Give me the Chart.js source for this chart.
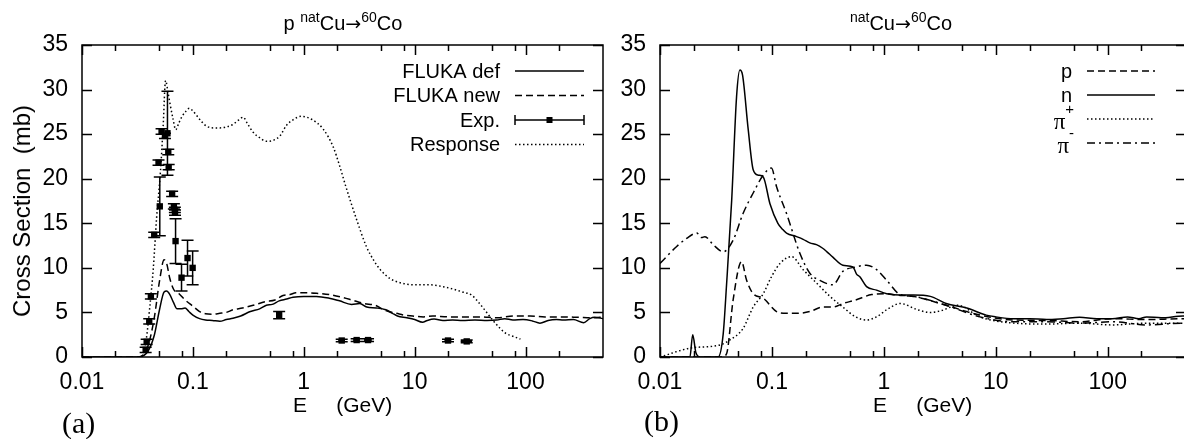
<!DOCTYPE html>
<html>
<head>
<meta charset="utf-8">
<script src="https://cdn.jsdelivr.net/npm/chart.js@4.4.1/dist/chart.umd.min.js"></script>
<style>
body { margin: 0; width: 1184px; height: 439px; overflow: hidden; background: #fff; position: relative; font-family: "Liberation Sans", Arial, sans-serif; }
canvas { position: absolute; top: 0; }
#left { left: 0; }
#right { left: 590px; }
.t { position: absolute; white-space: pre; color: #000; line-height: 20px; }
.t .s { font-size: 14px; position: relative; top: -8px; }
.t .ar { font-family: "DejaVu Sans", sans-serif; font-size: 19px; }
.serif { font-family: "Liberation Serif", "Times New Roman", serif; }
</style>
</head>
<body>
<canvas id="left" width="610" height="439"></canvas>
<canvas id="right" width="600" height="439"></canvas>

<div class="t" style="left:0;width:686px;text-align:center;top:13px;font-size:20px">p <span class="s">nat</span>Cu<span class="ar">→</span><span class="s">60</span>Co</div>
<div class="t" style="left:800px;width:202px;text-align:center;top:13px;font-size:20px"><span class="s">nat</span>Cu<span class="ar">→</span><span class="s">60</span>Co</div>
<div class="t" style="left:22px;top:211px;font-size:24px;transform:translate(-50%,-50%) rotate(-90deg)">Cross Section  (mb)</div>
<div class="t" style="left:293px;top:395px;font-size:21px">E     (GeV)</div>
<div class="t" style="left:873px;top:395px;font-size:21px">E     (GeV)</div>
<div class="t serif" style="left:62px;top:413px;font-size:30px">(a)</div>
<div class="t serif" style="left:644px;top:411px;font-size:30px">(b)</div>

<script>
// axis ticks
const xTickValues = [0.01, 0.1, 1, 10, 100];
const xTickLabels = ['0.01', '0.1', '1', '10', '100'];
const xMinorTicks = [0.02, 0.05, 0.08, 0.2, 0.5, 0.8, 2, 5, 8, 20, 50, 80, 200];
const yTickValues = [0, 5, 10, 15, 20, 25, 30, 35];

// (a) p natCu -> 60Co
const defE = [0.01, 0.03, 0.035, 0.04, 0.045, 0.05, 0.055, 0.058, 0.062, 0.067, 0.072, 0.078, 0.085, 0.092, 0.1, 0.115, 0.13, 0.15, 0.175, 0.2, 0.23, 0.27, 0.33, 0.4, 0.46, 0.52, 0.6, 0.7, 0.8, 1.0, 1.3, 1.7, 2.1, 2.7, 3.2, 3.7, 4.5, 5.5, 6.3, 7, 8.5, 10, 11.8, 13, 15, 18, 22, 27, 35, 45, 55, 65, 77, 95, 115, 135, 160, 190, 220, 270, 335, 380, 420, 500];
const defS = [0, 0, 0.1, 0.8, 2.5, 5.3, 7.3, 7.4, 7.0, 6.1, 5.4, 5.4, 5.5, 5.1, 4.7, 4.3, 4.15, 4.1, 4.0, 4.2, 4.35, 4.6, 5.1, 5.4, 5.8, 5.9, 6.3, 6.5, 6.7, 6.8, 6.8, 6.6, 6.3, 5.9, 6.0, 5.6, 5.5, 5.3, 4.9, 4.6, 4.4, 4.2, 3.9, 4.1, 4.25, 4.1, 4.15, 4.1, 4.15, 4.1, 4.15, 4.3, 4.15, 4.2, 4.05, 3.8, 4.1, 4.2, 4.15, 4.2, 3.85, 4.3, 4.45, 4.3];

const newE = [0.01, 0.032, 0.036, 0.04, 0.045, 0.05, 0.055, 0.058, 0.062, 0.067, 0.075, 0.085, 0.1, 0.115, 0.13, 0.15, 0.175, 0.2, 0.23, 0.28, 0.35, 0.45, 0.55, 0.65, 0.75, 0.85, 1.0, 1.3, 1.7, 2.2, 2.7, 3.5, 4.4, 5.5, 6.9, 8, 9.6, 12, 14.6, 20, 27, 40, 55, 80, 110, 150, 220, 300, 410, 500];
const newS = [0, 0, 0.3, 1.5, 4.5, 8.5, 10.9, 10.5, 8.8, 7.6, 7.1, 6.4, 5.7, 5.1, 4.85, 4.8, 4.9, 5.0, 5.3, 5.5, 5.8, 6.2, 6.4, 6.9, 7.0, 7.2, 7.2, 7.15, 7.0, 6.7, 6.4, 6.0, 5.8, 5.2, 4.9, 4.7, 4.6, 4.5, 4.6, 4.5, 4.5, 4.5, 4.4, 4.6, 4.6, 4.5, 4.5, 4.45, 4.4, 4.5];

const respE = [0.035, 0.0357, 0.038, 0.0408, 0.044, 0.047, 0.051, 0.054, 0.0567, 0.06, 0.062, 0.066, 0.07, 0.075, 0.08, 0.087, 0.093, 0.1, 0.108, 0.12, 0.1325, 0.155, 0.175, 0.2, 0.23, 0.26, 0.284, 0.31, 0.35, 0.4, 0.46, 0.53, 0.61, 0.7, 0.8, 0.95, 1.2, 1.49, 1.84, 2.1, 2.4, 3.0, 3.67, 4.3, 4.9, 6.0, 6.9, 8.2, 9.6, 13.6, 19.4, 27, 33, 38.5, 44, 50.5, 58, 66.5, 78, 90];
const respS = [0, 0.4, 2.0, 5.5, 10, 15.5, 20.8, 26, 31, 29.5, 28.5, 26.8, 25.5, 26.3, 27.0, 27.6, 27.9, 27.6, 27.1, 26.4, 25.9, 25.7, 25.7, 25.8, 26.1, 26.6, 26.9, 26.2, 25.2, 24.6, 24.2, 24.3, 24.8, 26.0, 26.6, 27.0, 26.6, 25.6, 23.6, 21.5, 19.1, 15.4, 12.4, 10.8, 9.8, 8.8, 8.45, 8.2, 8.1, 8.1, 7.8, 7.3, 6.9, 6.0, 5.1, 4.15, 3.3, 2.65, 2.3, 2.0];

const expE = [0.0375, 0.0383, 0.0404, 0.0418, 0.0448, 0.049, 0.0503, 0.0522, 0.056, 0.059, 0.06, 0.0605, 0.065, 0.0674, 0.0688, 0.069, 0.0698, 0.079, 0.0895, 0.0995, 0.6, 2.2, 3.0, 3.8, 20, 29.5];
const expS = [0.8, 1.7, 4.0, 6.8, 13.7, 21.8, 16.9, 25.3, 24.8, 25.1, 23.0, 21.3, 18.3, 16.9, 16.5, 16.2, 13.0, 8.9, 11.1, 10.0, 4.7, 1.85, 1.9, 1.9, 1.85, 1.75];
const expDS = [0.3, 0.3, 0.3, 0.3, 0.3, 0.3, 3.3, 0.3, 0.3, 4.7, 0.3, 0.3, 0.3, 0.3, 0.3, 0.3, 2.5, 1.5, 2.0, 1.9, 0.4, 0.15, 0.15, 0.15, 0.15, 0.15];
const expDE = [0.001, 0.001, 0.001, 0.001, 0.0015, 0.0015, 0.0, 0.0015, 0.0015, 0.0, 0.0015, 0.0015, 0.0015, 0.0015, 0.0015, 0.0015, 0.0, 0.0, 0.0, 0.0, 0.0, 0.15, 0.2, 0.3, 1.4, 3.5];

// (b) natCu -> 60Co by projectile
const pE = [0.01, 0.036, 0.0394, 0.045, 0.0535, 0.0594, 0.068, 0.0836, 0.11, 0.135, 0.166, 0.218, 0.284, 0.35, 0.43, 0.56, 0.78, 1.06, 1.31, 1.83, 3.6, 7.2, 14.4, 28.4, 56, 110, 222, 470, 500];
const pS = [0, 0, 0.4, 6.4, 10.7, 8.6, 7.1, 6.6, 5.1, 4.9, 4.9, 5.1, 5.6, 5.6, 6.0, 6.4, 7.0, 7.1, 6.95, 6.8, 5.8, 4.7, 4.15, 4.1, 3.95, 4.3, 4.2, 4.3, 4.3];

const nE = [0.01, 0.0185, 0.0196, 0.0209, 0.0228, 0.033, 0.0367, 0.0394, 0.0437, 0.0483, 0.0517, 0.0547, 0.0614, 0.068, 0.0755, 0.0836, 0.096, 0.113, 0.125, 0.135, 0.166, 0.19, 0.218, 0.25, 0.284, 0.31, 0.35, 0.43, 0.53, 0.57, 0.61, 0.7, 0.86, 1.06, 1.4, 1.83, 2.6, 3.6, 5.5, 8.2, 10, 14.4, 20, 28.4, 40, 56, 80, 110, 150, 190, 222, 300, 470, 500];
const nS = [0, 0, 2.5, 0.5, 0, 0, 2.6, 8.3, 17.6, 29.2, 32.2, 31.6, 25.5, 21.0, 20.4, 20.2, 17.2, 15.0, 14.3, 13.9, 13.5, 13.2, 12.8, 12.6, 12.2, 11.8, 11.2, 10.3, 10.1, 9.3, 9.0, 7.9, 7.5, 7.1, 6.95, 6.95, 6.8, 6.0, 5.5, 4.7, 4.5, 4.3, 4.3, 4.2, 4.3, 4.45, 4.3, 4.3, 4.5, 4.3, 4.5, 4.4, 4.6, 4.6];

const pipE = [0.01, 0.0187, 0.0344, 0.042, 0.0552, 0.068, 0.0836, 0.099, 0.118, 0.15, 0.19, 0.25, 0.33, 0.43, 0.56, 0.7, 0.86, 1.06, 1.4, 2.0, 2.6, 3.25, 4.6, 7.2, 14.4, 28.4, 56, 110, 222, 470, 500];
const pipS = [0, 1.0, 1.35, 1.9, 3.2, 5.6, 7.1, 9.0, 10.5, 11.25, 9.8, 8.3, 6.8, 5.6, 4.5, 4.15, 4.5, 5.3, 6.0, 5.3, 5.0, 5.2, 5.8, 4.5, 3.8, 3.7, 3.8, 3.6, 3.8, 3.8, 3.8];

const pimE = [0.01, 0.0141, 0.0173, 0.0213, 0.0235, 0.0252, 0.0299, 0.0367, 0.045, 0.0552, 0.068, 0.0836, 0.099, 0.11, 0.135, 0.178, 0.218, 0.268, 0.35, 0.43, 0.56, 0.7, 0.86, 1.06, 1.4, 1.83, 3.6, 7.2, 14.4, 28.4, 56, 110, 222, 470, 500];
const pimS = [10.5, 12.4, 13.3, 13.9, 13.4, 13.5, 12.6, 11.8, 13.1, 16.1, 18.4, 20.4, 21.2, 19.1, 16.1, 11.6, 9.4, 8.6, 8.1, 9.6, 10.1, 10.3, 9.8, 8.6, 7.0, 6.8, 5.8, 4.5, 3.95, 3.95, 3.8, 3.95, 3.6, 3.8, 3.8];

const FONT = '"Liberation Sans", Arial, sans-serif';
Chart.defaults.font.family = FONT;
Chart.defaults.color = '#000';

function pts(xs, ys) {
  return xs.map((x, i) => ({ x: x, y: ys[i] }));
}

function curve(label, xs, ys, dash) {
  return {
    label: label,
    data: pts(xs, ys),
    borderColor: '#000',
    borderWidth: 1.5,
    borderDash: dash,
    pointRadius: 0,
    fill: false,
    cubicInterpolationMode: 'monotone'
  };
}

// frame with inward ticks on all four sides
const frameTicks = {
  id: 'frameTicks',
  afterDatasetsDraw(chart) {
    const { ctx, chartArea: a, scales } = chart;
    const x = scales.x, y = scales.y;
    ctx.save();
    ctx.strokeStyle = '#000';
    ctx.lineWidth = 1.5;
    ctx.setLineDash([]);
    ctx.strokeRect(a.left, a.top, a.right - a.left, a.bottom - a.top);
    ctx.beginPath();
    const xt = (v, len) => {
      const px = Math.round(x.getPixelForValue(v)) + 0.5;
      ctx.moveTo(px, a.bottom); ctx.lineTo(px, a.bottom - len);
      ctx.moveTo(px, a.top); ctx.lineTo(px, a.top + len);
    };
    xTickValues.forEach(v => xt(v, 10));
    xMinorTicks.forEach(v => xt(v, 6));
    yTickValues.forEach(v => {
      const py = Math.round(y.getPixelForValue(v)) + 0.5;
      ctx.moveTo(a.left, py); ctx.lineTo(a.left + 10, py);
      ctx.moveTo(a.right, py); ctx.lineTo(a.right - 10, py);
    });
    ctx.stroke();
    ctx.restore();
  }
};

// x/y error bars for the measured points
const errorBars = {
  id: 'errorBars',
  afterDatasetsDraw(chart) {
    const { ctx, scales } = chart;
    const x = scales.x, y = scales.y;
    ctx.save();
    ctx.strokeStyle = '#000';
    ctx.lineWidth = 1.5;
    ctx.beginPath();
    expE.forEach((e, i) => {
      const px = x.getPixelForValue(e);
      const py = y.getPixelForValue(expS[i]);
      const y1 = y.getPixelForValue(expS[i] - expDS[i]);
      const y2 = y.getPixelForValue(expS[i] + expDS[i]);
      ctx.moveTo(px, y1); ctx.lineTo(px, y2);
      ctx.moveTo(px - 6, y1); ctx.lineTo(px + 6, y1);
      ctx.moveTo(px - 6, y2); ctx.lineTo(px + 6, y2);
      if (expDE[i] > 0) {
        const x1 = x.getPixelForValue(e - expDE[i]);
        const x2 = x.getPixelForValue(e + expDE[i]);
        ctx.moveTo(x1, py); ctx.lineTo(x2, py);
      }
    });
    ctx.stroke();
    ctx.restore();
  }
};

// gnuplot-style key: label right-aligned, sample to its right
const keyBox = {
  id: 'keyBox',
  afterDraw(chart, args, o) {
    const ctx = chart.ctx;
    ctx.save();
    chart.data.datasets.forEach((ds, i) => {
      const yy = o.top + i * o.step;
      const parts = ds.label.split('^');
      ctx.fillStyle = '#000';
      ctx.textBaseline = 'middle';
      if (parts.length > 1) {
        ctx.font = '15px ' + FONT;
        const sw = ctx.measureText(parts[1]).width;
        ctx.textAlign = 'left';
        ctx.fillText(parts[1], o.right - sw + 2, yy - 9);
        ctx.font = '23px "Liberation Serif", serif';
        ctx.textAlign = 'right';
        ctx.fillText(parts[0], o.right - sw + 2, yy + 4);
      } else {
        ctx.font = '20px ' + FONT;
        ctx.textAlign = 'right';
        ctx.fillText(parts[0], o.right, yy + 1);
      }
      ctx.strokeStyle = '#000';
      ctx.lineWidth = 1.5;
      ctx.setLineDash(ds.borderDash || []);
      ctx.beginPath();
      ctx.moveTo(o.x1, yy); ctx.lineTo(o.x2, yy);
      ctx.stroke();
      if (ds.showLine === false) {
        ctx.setLineDash([]);
        ctx.beginPath();
        ctx.moveTo(o.x1, yy - 5); ctx.lineTo(o.x1, yy + 5);
        ctx.moveTo(o.x2, yy - 5); ctx.lineTo(o.x2, yy + 5);
        ctx.stroke();
        const mx = (o.x1 + o.x2) / 2;
        ctx.fillRect(mx - 3, yy - 3, 6, 6);
      }
    });
    ctx.restore();
  }
};

function makeOptions(yWidth, padRight, key) {
  return {
    responsive: false,
    animation: false,
    events: [],
    layout: { padding: { left: 0, top: 45, right: padRight, bottom: 0 } },
    plugins: { legend: { display: false }, tooltip: { enabled: false }, keyBox: key },
    scales: {
      x: {
        type: 'logarithmic',
        min: 0.01,
        max: 500,
        grid: { display: false, drawTicks: false },
        border: { display: false },
        afterBuildTicks: s => { s.ticks = xTickValues.map(v => ({ value: v })); },
        afterFit: s => { s.height = 82; s.paddingLeft = 0; s.paddingRight = 0; },
        ticks: {
          autoSkip: false,
          maxRotation: 0,
          padding: 12,
          font: { size: 23 },
          callback: (v, i) => xTickLabels[i]
        }
      },
      y: {
        type: 'linear',
        min: 0,
        max: 35,
        grid: { display: false, drawTicks: false },
        border: { display: false },
        afterBuildTicks: s => { s.ticks = yTickValues.map(v => ({ value: v })); },
        afterFit: s => { s.width = yWidth; s.paddingTop = 0; s.paddingBottom = 0; },
        ticks: { padding: 14, font: { size: 23 } }
      }
    }
  };
}

const expSet = {
  label: 'Exp.',
  data: pts(expE, expS),
  showLine: false,
  pointStyle: 'rect',
  pointRadius: 4.5,
  pointBackgroundColor: '#000',
  pointBorderWidth: 0,
  borderColor: '#000',
  borderDash: []
};

new Chart(document.getElementById('left'), {
  type: 'line',
  data: {
    datasets: [
      curve('FLUKA def', defE, defS, []),
      curve('FLUKA new', newE, newS, [7, 4]),
      expSet,
      curve('Response', respE, respS, [1.5, 2.5])
    ]
  },
  options: makeOptions(82, 7, { right: 500, x1: 515, x2: 584, top: 71, step: 24.5 }),
  plugins: [frameTicks, errorBars, keyBox]
});

new Chart(document.getElementById('right'), {
  type: 'line',
  data: {
    datasets: [
      curve('p', pE, pS, [7, 4]),
      curve('n', nE, nS, []),
      curve('π^+', pipE, pipS, [1.5, 2.5]),
      curve('π^-', pimE, pimS, [8, 4, 2, 4])
    ]
  },
  options: makeOptions(70, 4, { right: 482, x1: 497, x2: 565, top: 71, step: 24 }),
  plugins: [frameTicks, keyBox]
});
</script>
</body>
</html>
